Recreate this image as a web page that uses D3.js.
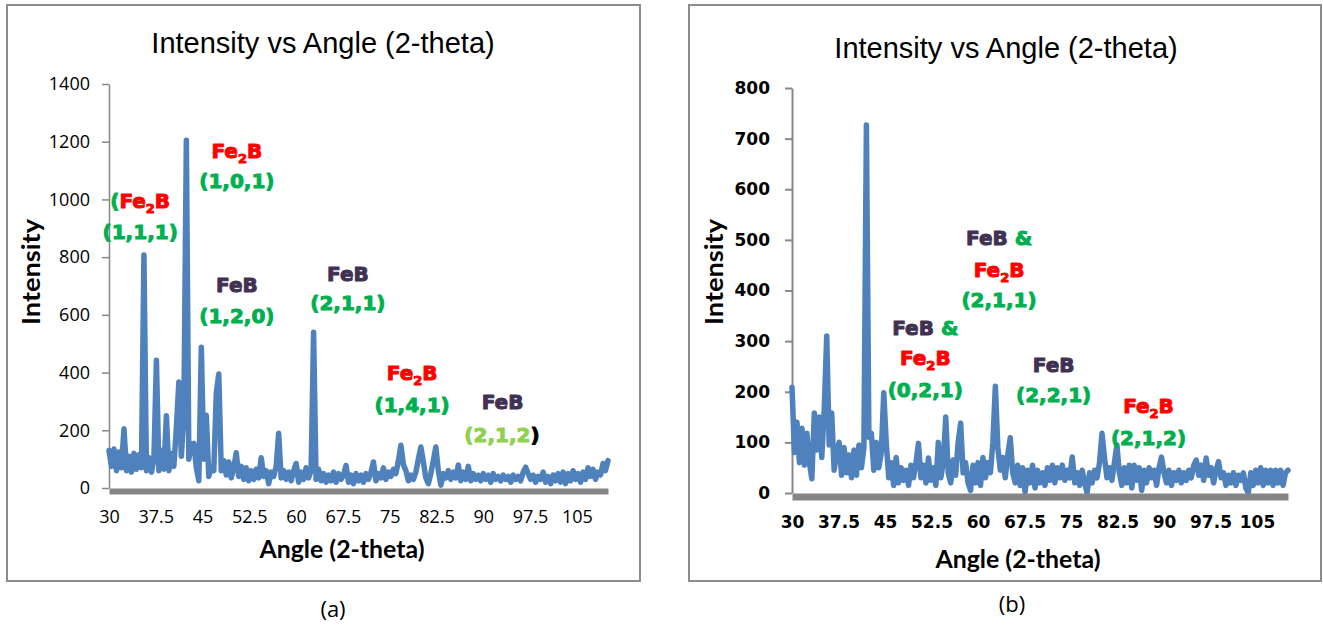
<!DOCTYPE html>
<html>
<head>
<meta charset="utf-8">
<script src="https://cdn.jsdelivr.net/npm/d3@7"></script>
<style>
  body { margin: 0; background: #fff; }
</style>
</head>
<body>
<script>
// Angles run from 30 to 110 degrees in 0.4 degree steps
const angleStart = 30;
const angleStep = 0.4;

// Sample (a): intensity
const intensityA = [
  130, 75, 135, 60, 125, 70, 205, 60, 110, 55,
  120, 65, 115, 70, 807, 60, 105, 55, 100, 443,
  60, 130, 65, 250, 60, 120, 75, 210, 367, 110,
  250, 1205, 100, 150, 155, 70, 25, 488, 100, 252,
  40, 75, 60, 330, 395, 60, 95, 45, 90, 35,
  70, 122, 40, 75, 30, 70, 25, 60, 30, 65,
  35, 105, 40, 60, 15, 55, 40, 75, 190, 35,
  60, 30, 55, 25, 60, 85, 20, 55, 30, 70,
  35, 60, 540, 30, 65, 25, 50, 20, 45, 25,
  55, 20, 50, 30, 45, 78, 20, 45, 15, 50,
  25, 45, 20, 50, 30, 55, 90, 25, 50, 35,
  70, 30, 55, 40, 65, 50, 95, 148, 80, 60,
  25, 45, 30, 55, 100, 142, 90, 35, 15, 50,
  95, 142, 60, 10, 50, 35, 60, 30, 55, 35,
  80, 25, 55, 30, 75, 25, 50, 30, 45, 25,
  50, 30, 45, 20, 50, 30, 40, 25, 45, 30,
  40, 20, 45, 30, 40, 25, 55, 72, 50, 30,
  45, 20, 40, 30, 55, 20, 40, 15, 45, 25,
  50, 20, 55, 15, 50, 25, 60, 30, 50, 20,
  55, 30, 70, 40, 65, 30, 55, 45, 85, 60,
  95
];

// Sample (b): intensity
const intensityB = [
  209, 80, 140, 60, 128, 55, 118, 60, 28, 158,
  85, 150, 70, 165, 310, 95, 158, 45, 80, 100,
  35, 90, 40, 75, 30, 85, 35, 95, 50, 90,
  727, 110, 118, 45, 100, 50, 80, 198, 100, 30,
  60, 15, 70, 20, 50, 25, 45, 15, 55, 30,
  60, 98, 30, 55, 20, 69, 25, 50, 15, 100,
  30, 60, 150, 40, 20, 65, 35, 100, 138, 40,
  60, 20, 5, 55, 20, 60, 15, 70, 30, 60,
  40, 100, 211, 90, 45, 70, 30, 75, 109, 40,
  20, 55, 15, 50, 2, 45, 20, 55, 10, 45,
  20, 40, 15, 50, 25, 55, 20, 50, 30, 55,
  25, 45, 30, 71, 20, 40, 15, 45, 20, 0,
  40, 20, 45, 30, 60, 118, 70, 30, 50, 25,
  60, 95, 40, 15, 50, 20, 55, 10, 55, 25,
  50, 5, 45, 20, 50, 30, 45, 15, 50, 71,
  40, 20, 45, 15, 40, 25, 45, 20, 40, 25,
  45, 30, 55, 65, 35, 55, 25, 69, 35, 50,
  20, 45, 62, 30, 40, 15, 35, 20, 40, 15,
  35, 25, 40, 10, 0, 40, 15, 45, 20, 50,
  15, 45, 20, 45, 15, 45, 20, 45, 15, 40,
  45
];

// Axis ticks
const xTicks = [30, 37.5, 45, 52.5, 60, 67.5, 75, 82.5, 90, 97.5, 105];
const yTicksA = [0, 200, 400, 600, 800, 1000, 1200, 1400];
const yTicksB = [0, 100, 200, 300, 400, 500, 600, 700, 800];

// Peak labels, anchored at (angle, intensity); parts are [text, colour, subscript]
const labelsA = [
  { angle: 35.0, value: 970, parts: [['(', 'green'], ['Fe', 'red'], ['2', 'red', 1], ['B', 'red']] },
  { angle: 35.0, value: 863, parts: [['(1,1,1)', 'green']] },
  { angle: 50.5, value: 1143, parts: [['Fe', 'red'], ['2', 'red', 1], ['B', 'red']] },
  { angle: 50.5, value: 1040, parts: [['(1,0,1)', 'green']] },
  { angle: 50.5, value: 679, parts: [['FeB', 'purple']] },
  { angle: 50.5, value: 572, parts: [['(1,2,0)', 'green']] },
  { angle: 68.3, value: 717, parts: [['FeB', 'purple']] },
  { angle: 68.3, value: 617, parts: [['(2,1,1)', 'green']] },
  { angle: 78.6, value: 374, parts: [['Fe', 'red'], ['2', 'red', 1], ['B', 'red']] },
  { angle: 78.6, value: 263, parts: [['(1,4,1)', 'green']] },
  { angle: 93.1, value: 274, parts: [['FeB', 'purple']] },
  { angle: 93.0, value: 159, parts: [['(2,1,2', 'lime'], [')', 'black']] }
];

const labelsB = [
  { angle: 63.4, value: 490, parts: [['FeB ', 'purple'], ['&', 'green']] },
  { angle: 63.4, value: 427, parts: [['Fe', 'red'], ['2', 'red', 1], ['B', 'red']] },
  { angle: 63.4, value: 367, parts: [['(2,1,1)', 'green']] },
  { angle: 51.5, value: 312, parts: [['FeB ', 'purple'], ['&', 'green']] },
  { angle: 51.5, value: 253, parts: [['Fe', 'red'], ['2', 'red', 1], ['B', 'red']] },
  { angle: 51.5, value: 190, parts: [['(0,2,1)', 'green']] },
  { angle: 72.2, value: 239, parts: [['FeB', 'purple']] },
  { angle: 72.2, value: 180, parts: [['(2,2,1)', 'green']] },
  { angle: 87.5, value: 158, parts: [['Fe', 'red'], ['2', 'red', 1], ['B', 'red']] },
  { angle: 87.5, value: 95, parts: [['(2,1,2)', 'green']] }
];

const colors = {
  red: '#ff0000',
  green: '#00b050',
  purple: '#403152',
  lime: '#92d050',
  black: '#000000'
};

const svg = d3.select('body').append('svg')
  .attr('width', 1323)
  .attr('height', 626);

function drawPanel(p) {
  const g = svg.append('g');

  // Chart border
  g.append('rect')
    .attr('x', p.box[0]).attr('y', p.box[1])
    .attr('width', p.box[2]).attr('height', p.box[3])
    .attr('fill', '#fff')
    .attr('stroke', '#8c8c8c')
    .attr('stroke-width', 2);

  const x = d3.scaleLinear().domain([30, 110]).range(p.xRange);
  const y = d3.scaleLinear().domain([0, p.yMax]).range(p.yRange);

  // Title
  g.append('text')
    .attr('x', p.titleX).attr('y', p.titleY)
    .attr('text-anchor', 'middle')
    .attr('font-family', '"Liberation Sans", Arial, sans-serif')
    .attr('font-size', 29)
    .text('Intensity vs Angle (2-theta)');

  // Y axis
  const yAxis = g.append('g')
    .attr('transform', `translate(${p.xRange[0]},0)`)
    .call(d3.axisLeft(y).tickValues(p.yTicks).tickSize(7).tickSizeOuter(0)
      .tickPadding(p.yPad).tickFormat(d3.format('d')));
  yAxis.select('.domain').attr('stroke', '#888').attr('stroke-width', p.axisW);
  yAxis.selectAll('.tick line').attr('stroke', '#888').attr('stroke-width', p.axisW);
  yAxis.selectAll('.tick text')
    .attr('fill', '#000')
    .attr('font-family', p.tickFont)
    .attr('font-weight', p.tickWeight)
    .attr('font-size', p.tickSize);

  // Data line
  const line = d3.line()
    .x((d, i) => x(angleStart + i * angleStep))
    .y(d => y(d));

  g.append('path')
    .datum(p.data)
    .attr('d', line)
    .attr('fill', 'none')
    .attr('stroke', '#4f81bd')
    .attr('stroke-width', 5.5)
    .attr('stroke-linejoin', 'round')
    .attr('stroke-linecap', 'round');

  // X axis: thick grey bar
  const xAxis = g.append('g')
    .attr('transform', `translate(0,${p.yRange[0] + p.barH / 2})`)
    .call(d3.axisBottom(x).tickValues(xTicks).tickSize(0).tickSizeOuter(0)
      .tickPadding(p.xPad).tickFormat(d3.format('')));
  xAxis.select('.domain').attr('stroke', '#858585').attr('stroke-width', p.barH);
  xAxis.selectAll('.tick text')
    .attr('fill', '#000')
    .attr('font-family', p.tickFont)
    .attr('font-weight', p.tickWeight)
    .attr('font-size', p.tickSize);

  // Axis titles
  g.append('text')
    .attr('transform', `translate(${p.yTitleX},272) rotate(-90)`)
    .attr('text-anchor', 'middle')
    .attr('font-family', 'Lato, "Open Sans", sans-serif')
    .attr('font-weight', 'bold')
    .attr('font-size', 24)
    .attr('textLength', 106)
    .attr('lengthAdjust', 'spacingAndGlyphs')
    .text('Intensity');

  g.append('text')
    .attr('x', p.xTitleX).attr('y', p.xTitleY)
    .attr('text-anchor', 'middle')
    .attr('font-family', 'Lato, "Open Sans", sans-serif')
    .attr('font-weight', 'bold')
    .attr('font-size', 24)
    .attr('textLength', 165)
    .attr('lengthAdjust', 'spacingAndGlyphs')
    .text('Angle (2-theta)');

  // Peak labels
  p.labels.forEach(l => {
    const t = g.append('text')
      .attr('x', x(l.angle)).attr('y', y(l.value))
      .attr('text-anchor', 'middle')
      .attr('font-family', '"DejaVu Sans", sans-serif')
      .attr('font-weight', 'bold')
      .attr('font-size', 20);
    let down = false;
    l.parts.forEach(([s, c, sub]) => {
      const ts = t.append('tspan')
        .attr('fill', colors[c])
        .attr('stroke', colors[c])
        .attr('stroke-width', 1)
        .attr('stroke-linejoin', 'round')
        .text(s);
      if (sub) {
        ts.attr('font-size', 13).attr('dy', 5);
        down = true;
      } else if (down) {
        ts.attr('dy', -5);
        down = false;
      }
    });
  });

  // Caption below the box
  svg.append('text')
    .attr('x', p.capX).attr('y', p.capY)
    .attr('text-anchor', 'middle')
    .attr('font-family', '"Open Sans", sans-serif')
    .attr('font-size', 22)
    .text(p.caption);
}

drawPanel({
  box: [7, 5, 633, 576],
  xRange: [109, 608],
  yRange: [488, 84],
  yMax: 1400,
  yTicks: yTicksA,
  data: intensityA,
  labels: labelsA,
  titleX: 323, titleY: 53,
  tickFont: '"Open Sans", sans-serif', tickWeight: 'normal', tickSize: 18,
  yPad: 12, xPad: 19, axisW: 1.5, barH: 6,
  yTitleX: 40, xTitleX: 342, xTitleY: 558,
  caption: '(a)', capX: 333, capY: 617
});

drawPanel({
  box: [689, 5, 632, 576],
  xRange: [792, 1288],
  yRange: [493, 88],
  yMax: 800,
  yTicks: yTicksB,
  data: intensityB,
  labels: labelsB,
  titleX: 1006, titleY: 58,
  tickFont: '"DejaVu Sans", sans-serif', tickWeight: 'bold', tickSize: 17,
  yPad: 15, xPad: 19.4, axisW: 2, barH: 7,
  yTitleX: 723, xTitleX: 1018, xTitleY: 568,
  caption: '(b)', capX: 1012, capY: 612
});
</script>
</body>
</html>
